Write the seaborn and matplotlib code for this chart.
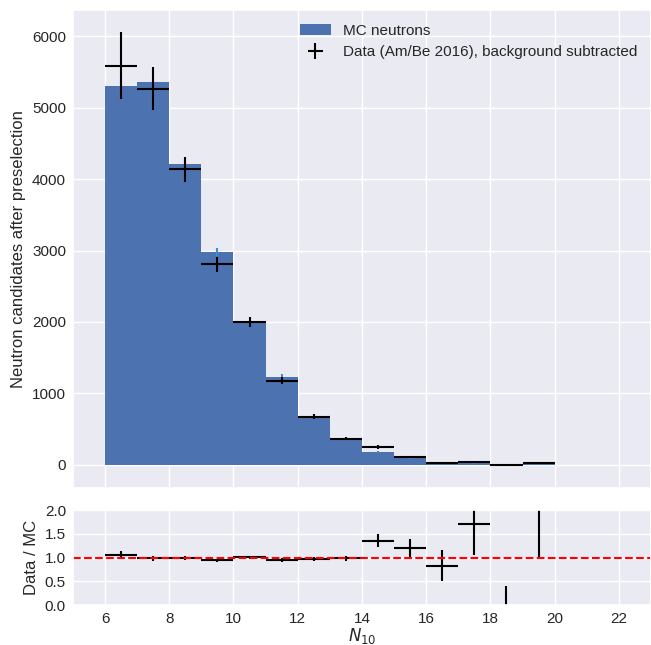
import numpy as np
import pandas as pd
import matplotlib
matplotlib.use("Agg")
import matplotlib.pyplot as plt
import seaborn as sns

sns.set_theme(style="darkgrid")
plt.rcParams['font.family'] = ['Liberation Sans', 'DejaVu Sans']
plt.rcParams['xtick.major.size'] = 0
plt.rcParams['ytick.major.size'] = 0
plt.rcParams['xtick.major.pad'] = 5
plt.rcParams['ytick.major.pad'] = 5

# N10 bins (lower edges), width 1
bin_low = [6, 7, 8, 9, 10, 11, 12, 13, 14, 15, 16, 17, 18, 19]
mc_counts = [5300, 5357, 4210, 2983, 1986, 1231, 690, 368, 182, 90, 36, 20, 10, 8]
mc_err = [73, 73, 65, 55, 45, 35, 26, 19, 13, 9, 6, 4, 3, 3]
data_counts = [5590, 5268, 4140, 2807, 2000, 1175, 676, 364, 247, 108, 30, 34, -8, 20]
data_err = [473, 303, 175, 105, 65, 50, 30, 20, 26, 18, 12, 13, 12, 12]

edges = list(range(bin_low[0], bin_low[-1] + 2))
centers = np.array(bin_low) + 0.5
df = pd.DataFrame({'n10': centers, 'mc': mc_counts})

ratio = np.array(data_counts) / np.array(mc_counts)
ratio_err = np.array(data_err) / np.array(mc_counts)

fig = plt.figure(figsize=(6.51, 6.45), dpi=100)
ax = fig.add_axes([0.112, 0.2434, 0.888, 0.741])
axr = fig.add_axes([0.112, 0.062, 0.888, 0.147], sharex=ax)

sns.histplot(data=df, x='n10', weights='mc', bins=edges, color='#4C72B0',
             alpha=1, linewidth=0, ax=ax, label='MC neutrons')
ax.errorbar(centers, mc_counts, yerr=mc_err, fmt='none', ecolor='#3a8fd0', lw=1.5)
ax.errorbar(centers, data_counts, xerr=0.5, yerr=data_err, fmt='none', ecolor='black',
            lw=1.5, label='Data (Am/Be 2016), background subtracted')
ax.set_xlim(5, 23)
ax.set_xlabel('')
ax.set_ylabel('Neutron candidates after preselection')
ax.tick_params(labelbottom=False)
ax.legend(loc='upper right', frameon=False)

axr.errorbar(centers, ratio, xerr=0.5, yerr=ratio_err, fmt='none', ecolor='black', lw=1.5)
axr.axhline(1.0, color='red', ls='--', lw=1.5)
axr.set_ylim(0, 2)
axr.set_yticks([0, 0.5, 1.0, 1.5, 2.0])
axr.set_xticks(np.arange(6, 23, 2))
axr.set_xlabel('$N_{10}$', labelpad=0)
axr.set_ylabel('Data / MC')

fig.savefig('out.png', dpi=100)
